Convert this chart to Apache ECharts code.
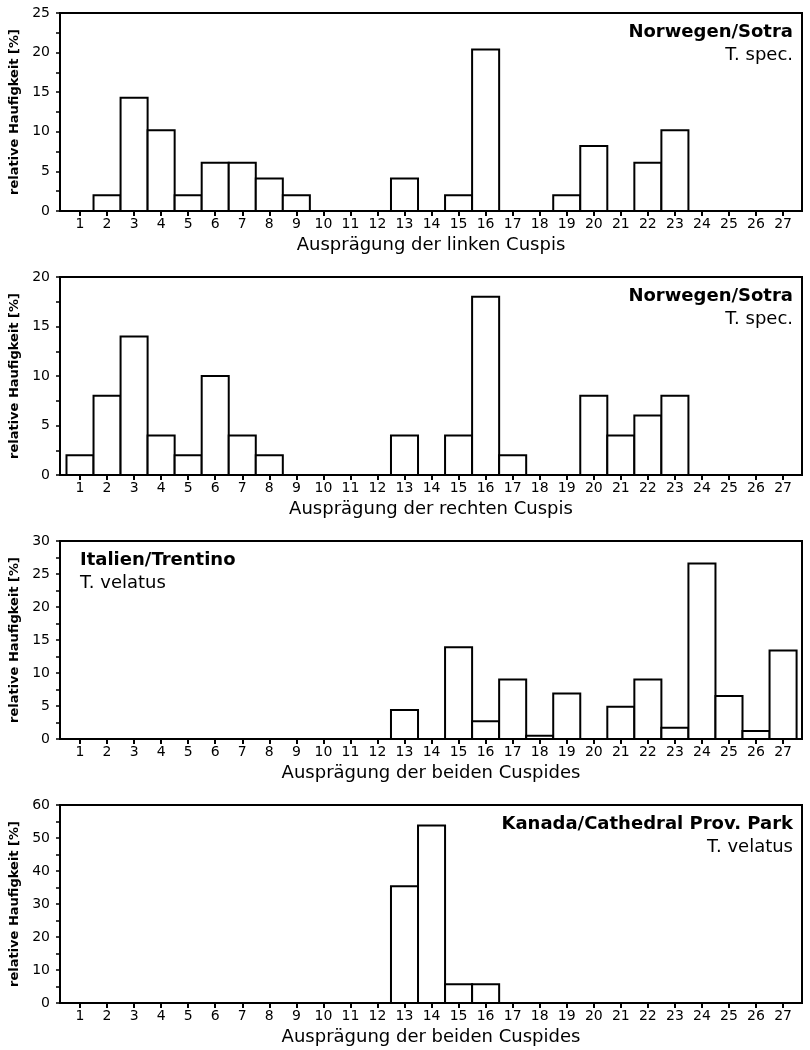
<!DOCTYPE html>
<html><head><meta charset="utf-8">
<script src="https://cdn.jsdelivr.net/npm/echarts@6/dist/echarts.min.js"></script>
<style>html,body{margin:0;padding:0;background:#fff}#c{width:810px;height:1050px}</style>
</head><body><div id="c"></div>
<script>
// ---- data ----
const xTicks = [1,2,3,4,5,6,7,8,9,10,11,12,13,14,15,16,17,18,19,20,21,22,23,24,25,26,27];
const leftCuspis  = [0,2.0,14.3,10.2,2.0,6.1,6.1,4.1,2.0,0,0,0,4.1,0,2.0,20.4,0,0,2.0,8.2,0,6.1,10.2,0,0,0,0];
const rightCuspis = [2,8,14,4,2,10,4,2,0,0,0,0,4,0,4,18,2,0,0,8,4,6,8,0,0,0,0];
const italien     = [0,0,0,0,0,0,0,0,0,0,0,0,4.4,0,13.9,2.7,9.0,0.5,6.9,0,4.9,9.0,1.7,26.6,6.5,1.2,13.4];
const kanada      = [0,0,0,0,0,0,0,0,0,0,0,0,35.4,53.8,5.7,5.7,0,0,0,0,0,0,0,0,0,0,0];
const panelValues = [leftCuspis, rightCuspis, italien, kanada];
const yMax        = [25, 20, 30, 60];
const yStep       = [5, 5, 5, 10];
const xTitles     = ['Ausprägung der linken Cuspis','Ausprägung der rechten Cuspis','Ausprägung der beiden Cuspides','Ausprägung der beiden Cuspides'];
const yTitle      = 'relative Haufigkeit [%]';
const siteNames   = ['Norwegen/Sotra','Norwegen/Sotra','Italien/Trentino','Kanada/Cathedral Prov. Park'];
const taxonNames  = ['T. spec.','T. spec.','T. velatus','T. velatus'];
const labelSide   = ['right','right','left','right'];

// ---- layout ----
const FONT = 'DejaVu Sans';
const tops = [13, 277, 541, 805];
const H = 198;
const chart = echarts.init(document.getElementById('c'), null, {renderer:'canvas'});

const grid = [], xAxis = [], yAxis = [], series = [], graphic = [];
panelValues.forEach((vals, i) => {
  grid.push({left:60, right:8, top:tops[i], height:H, show:true, borderColor:'#000', borderWidth:2, backgroundColor:'transparent'});
  xAxis.push({
    gridIndex:i, type:'value', min:0.26, max:27.7,
    axisLine:{show:true, lineStyle:{color:'#000', width:2}},
    axisTick:{show:true, customValues:xTicks, length:5, lineStyle:{color:'#000', width:2}},
    axisLabel:{show:true, customValues:xTicks, color:'#000', fontSize:14, fontFamily:FONT, margin:6},
    splitLine:{show:false},
    name:xTitles[i], nameLocation:'middle', nameGap:25,
    nameTextStyle:{color:'#000', fontSize:18, fontFamily:FONT, verticalAlign:'top'}
  });
  yAxis.push({
    gridIndex:i, type:'value', min:0, max:yMax[i], interval:yStep[i],
    axisLine:{show:true, lineStyle:{color:'#000', width:2}},
    axisTick:{show:true, length:4, lineStyle:{color:'#000', width:1.5}},
    minorTick:{show:true, splitNumber:2, length:4, lineStyle:{color:'#000', width:1.5}},
    axisLabel:{color:'#000', fontSize:14, fontFamily:FONT, margin:10},
    splitLine:{show:false}, minorSplitLine:{show:false},
    name:yTitle, nameLocation:'middle', nameRotate:90, nameGap:34,
    nameTextStyle:{color:'#000', fontSize:13, fontWeight:'bold', fontFamily:FONT}
  });
  series.push({
    type:'custom', xAxisIndex:i, yAxisIndex:i,
    data: xTicks.map((x, k) => [x, vals[k]]),
    encode:{x:0, y:1},
    renderItem: function(params, api){
      const x = api.value(0), v = api.value(1);
      if (!v) return;
      const p0 = api.coord([x - 0.5, 0]);
      const p1 = api.coord([x + 0.5, v]);
      return {type:'rect', shape:{x:p0[0], y:p1[1], width:p1[0]-p0[0], height:p0[1]-p1[1]},
              style:{fill:'#fff', stroke:'#000', lineWidth:2}};
    },
    z:3
  });
  const pos = labelSide[i] === 'right' ? {right:17} : {left:80};
  const align = labelSide[i] === 'right' ? 'right' : 'left';
  graphic.push(Object.assign({type:'text', top:tops[i]+10, z:10,
    style:{text:siteNames[i], font:'bold 18px "'+FONT+'"', fill:'#000', textAlign:align}}, pos));
  graphic.push(Object.assign({type:'text', top:tops[i]+33, z:10,
    style:{text:taxonNames[i], font:'18px "'+FONT+'"', fill:'#000', textAlign:align}}, pos));
});

chart.setOption({animation:false, backgroundColor:'#fff', grid, xAxis, yAxis, series, graphic});
</script>
</body></html>
